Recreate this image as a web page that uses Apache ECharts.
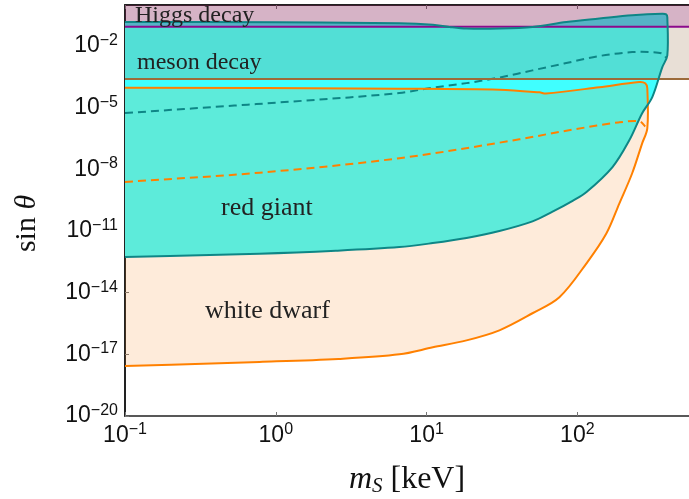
<!DOCTYPE html>
<html><head><meta charset="utf-8">
<script src="https://cdn.jsdelivr.net/npm/echarts@6/dist/echarts.min.js"></script>
<style>html,body{margin:0;padding:0;background:#fff}#c{width:689px;height:499px}</style>
</head><body><div id="c"></div>
<script>
// ---- axis ranges & ticks ----
const X_MIN = 0.1, X_MAX = 550;
const Y_MIN = 1e-20, Y_MAX = 1;
const xTicks = [0.1, 1, 10, 100];
const yTicks = [1e-20, 1e-17, 1e-14, 1e-11, 1e-8, 1e-5, 1e-2];

// ---- horizontal limits (sin theta) ----
const higgsLimit = 0.087;
const mesonLimit = 2.5e-4;

// ---- red giant region: [m_S keV, sin theta] ----
const redGiantBottom = [
  [0.1, 5.5e-13], [0.78, 7.9e-13], [2.5, 1.1e-12], [6.6, 1.66e-12], [11, 2.6e-12], [18.4, 4.6e-12],
  [30.4, 1.0e-11], [50.4, 2.95e-11], [68, 8.5e-11], [93, 2.95e-10], [115, 7.9e-10],
  [171, 1.3e-8], [221, 2.6e-7], [269, 5.4e-6], [314, 3.3e-5], [366, 9.5e-4], [395, 3.5e-3]
];
const redGiantTop = [
  [395, 0.25], [388, 0.35], [366, 0.38], [231, 0.32], [140, 0.22], [84.5, 0.148],
  [50.4, 0.085], [30.4, 0.071], [18.4, 0.071], [14.2, 0.085], [11, 0.11], [6.6, 0.13],
  [1, 0.145], [0.1, 0.148]
];
const redGiantDashed = [
  [0.1, 5.5e-6], [1.95, 2.5e-5], [6.6, 5.25e-5], [11, 9.5e-5], [18.4, 1.58e-4],
  [30.4, 2.95e-4], [50.4, 6.6e-4], [84.5, 1.5e-3], [140, 3.3e-3], [231, 5.1e-3],
  [314, 5.1e-3], [366, 4.3e-3], [388, 2.75e-3]
];

// ---- white dwarf region ----
const whiteDwarfTop = [
  [0.1, 9.5e-5], [6.6, 8.5e-5], [30.4, 7.6e-5], [56, 5.6e-5], [62, 4.9e-5],
  [140, 1.0e-4], [257, 1.78e-4], [282, 1.55e-4], [291, 8.9e-5], [291, 1.0e-6]
];
const whiteDwarfBottom = [
  [269, 1.86e-7], [231, 6.5e-9], [190, 2.24e-10], [156, 7.8e-12], [115, 2.7e-13],
  [76, 6.0e-15], [50.4, 1.0e-15], [30.4, 1.48e-16], [18.4, 4.8e-17], [11, 2.2e-17],
  [6.6, 1.0e-17], [2.6, 6.0e-18], [0.78, 4.3e-18], [0.1, 2.7e-18]
];
const whiteDwarfDashed = [
  [0.1, 2.45e-9], [0.78, 6.9e-9], [6.6, 3.5e-8], [41.3, 2.9e-7], [68, 5.75e-7],
  [115, 1.12e-6], [190, 1.95e-6], [258, 2.19e-6], [282, 1.23e-6]
];

// ---- build shapes ----
const redGiantPoly = redGiantBottom.concat(redGiantTop);
const whiteDwarfPoly = whiteDwarfTop.concat(whiteDwarfBottom);
const higgsBand = [[X_MIN, higgsLimit], [X_MAX, higgsLimit], [X_MAX, Y_MAX], [X_MIN, Y_MAX]];
const mesonBand = [[X_MIN, mesonLimit], [X_MAX, mesonLimit], [X_MAX, higgsLimit], [X_MIN, higgsLimit]];
const higgsLine = [[X_MIN, higgsLimit], [X_MAX, higgsLimit]];
const mesonLine = [[X_MIN, mesonLimit], [X_MAX, mesonLimit]];

// chord-length Catmull-Rom spline through the projected points (drawing only)
function splinePath(px, close) {
  const n = px.length;
  const t = [0];
  for (let i = 1; i < n; i++) {
    t.push(t[i - 1] + Math.max(1e-6, Math.hypot(px[i][0] - px[i - 1][0], px[i][1] - px[i - 1][1])));
  }
  const m = px.map((p, i) => {
    const a = Math.max(i - 1, 0), b = Math.min(i + 1, n - 1);
    const dt = t[b] - t[a];
    return [(px[b][0] - px[a][0]) / dt, (px[b][1] - px[a][1]) / dt];
  });
  const f = v => v[0].toFixed(2) + ' ' + v[1].toFixed(2);
  let d = 'M' + f(px[0]);
  for (let i = 0; i < n - 1; i++) {
    const h = (t[i + 1] - t[i]) / 3;
    const c1 = [px[i][0] + m[i][0] * h, px[i][1] + m[i][1] * h];
    const c2 = [px[i + 1][0] - m[i + 1][0] * h, px[i + 1][1] - m[i + 1][1] * h];
    d += ' C' + f(c1) + ' ' + f(c2) + ' ' + f(px[i + 1]);
  }
  if (close) d += ' Z';
  return d;
}

function shapeSeries(pts, kind, style, z) {
  return {
    type: 'custom', coordinateSystem: 'cartesian2d', xAxisIndex: 0, yAxisIndex: 0,
    data: pts, encode: { x: 0, y: 1 }, z: z, silent: true,
    renderItem: function (params, api) {
      if (params.dataIndex !== 0) return null;
      const px = pts.map(p => api.coord(p));
      if (kind === 'smoothFill' || kind === 'smoothLine') {
        return { type: 'path', shape: { pathData: splinePath(px, kind === 'smoothFill') }, style: style };
      }
      return { type: kind, shape: { points: px }, style: style };
    }
  };
}

const TEAL = '#0e8686', ORANGE = '#ff8000';

function powLabel(v) {
  const e = Math.round(Math.log10(v));
  return '{b|10}{s|' + (e < 0 ? '\u2212' + (-e) : e) + '}';
}
const tickRich = {
  b: { fontFamily: 'Liberation Sans', fontSize: 23, color: '#111', lineHeight: 27 },
  s: { fontFamily: 'Liberation Sans', fontSize: 16, color: '#111', lineHeight: 16, verticalAlign: 'top' }
};
const serif = 'Liberation Serif';

const chart = echarts.init(document.getElementById('c'), null, { renderer: 'canvas' });
chart.setOption({
  animation: false,
  backgroundColor: '#fff',
  grid: { left: 125, right: 0, top: 5, bottom: 83, containLabel: false, outerBoundsMode: 'none' },
  xAxis: [{
    type: 'log', logBase: 10, min: X_MIN, max: X_MAX, position: 'bottom',
    axisLine: { lineStyle: { color: '#222', width: 1.5 } },
    axisTick: { inside: true, length: 4, lineStyle: { color: '#777' }, customValues: xTicks },
    axisLabel: { customValues: xTicks, formatter: powLabel, rich: tickRich, margin: 6 },
    splitLine: { show: false }, minorTick: { show: false },
    name: '{i|m}{sub|S}{n| [keV]}', nameLocation: 'middle', nameGap: 47,
    nameTextStyle: { rich: {
      i: { fontFamily: serif, fontStyle: 'italic', fontSize: 32, color: '#111', lineHeight: 34 },
      sub: { fontFamily: serif, fontStyle: 'italic', fontSize: 21, color: '#111', lineHeight: 20, verticalAlign: 'bottom' },
      n: { fontFamily: serif, fontSize: 32, color: '#111', lineHeight: 34 }
    } }
  }, {
    type: 'log', logBase: 10, min: X_MIN, max: X_MAX, position: 'top',
    axisLine: { lineStyle: { color: '#222', width: 2 } },
    axisTick: { inside: true, length: 4, lineStyle: { color: '#777' }, customValues: xTicks },
    axisLabel: { show: false }, splitLine: { show: false }
  }],
  yAxis: [{
    type: 'log', logBase: 10, min: Y_MIN, max: Y_MAX,
    axisLine: { lineStyle: { color: '#222', width: 2 } },
    axisTick: { inside: true, length: 4, lineStyle: { color: '#777' }, customValues: yTicks },
    axisLabel: { customValues: yTicks, formatter: powLabel, rich: tickRich, margin: 7 },
    splitLine: { show: false }, minorTick: { show: false },
    name: '{n|sin }{t|\u03B8}', nameLocation: 'middle', nameGap: 81, nameRotate: 90,
    nameTextStyle: { padding: [0, 26, 0, 0], rich: {
      n: { fontFamily: serif, fontSize: 30, color: '#111', lineHeight: 34 },
      t: { fontFamily: serif, fontStyle: 'italic', fontSize: 30, color: '#111', lineHeight: 34 }
    } }
  }],
  series: [
    shapeSeries(redGiantPoly, 'smoothFill', { fill: '#40ffff' }, 1),
    shapeSeries(whiteDwarfPoly, 'smoothFill', { fill: 'rgba(249,131,26,0.162)' }, 2),
    shapeSeries(mesonBand, 'polygon', { fill: 'rgba(148,106,64,0.215)' }, 3),
    shapeSeries(higgsBand, 'polygon', { fill: 'rgba(131,25,82,0.33)' }, 4),
    shapeSeries(whiteDwarfDashed, 'smoothLine', { stroke: ORANGE, lineWidth: 2, lineDash: [8, 5], fill: null }, 5),
    shapeSeries(redGiantDashed, 'smoothLine', { stroke: TEAL, lineWidth: 2, lineDash: [8, 5], fill: null }, 5),
    shapeSeries(whiteDwarfPoly, 'smoothLine', { stroke: ORANGE, lineWidth: 2, fill: null }, 6),
    shapeSeries(mesonLine, 'polyline', { stroke: '#9c6b3a', lineWidth: 2, fill: null }, 6),
    shapeSeries(higgsLine, 'polyline', { stroke: '#8c0a8c', lineWidth: 2, fill: null }, 6),
    shapeSeries(redGiantPoly, 'smoothLine', { stroke: TEAL, lineWidth: 2, fill: null }, 7)
  ],
  graphic: [
    { type: 'text', left: 135, top: 4, z: 100, style: { text: 'Higgs decay', font: '24px "Liberation Serif"', fill: '#222' } },
    { type: 'text', left: 137, top: 51, z: 100, style: { text: 'meson decay', font: '24px "Liberation Serif"', fill: '#222' } },
    { type: 'text', left: 221, top: 195, z: 100, style: { text: 'red giant', font: '26px "Liberation Serif"', fill: '#222' } },
    { type: 'text', left: 205, top: 298, z: 100, style: { text: 'white dwarf', font: '26px "Liberation Serif"', fill: '#222' } }
  ]
});
</script></body></html>
